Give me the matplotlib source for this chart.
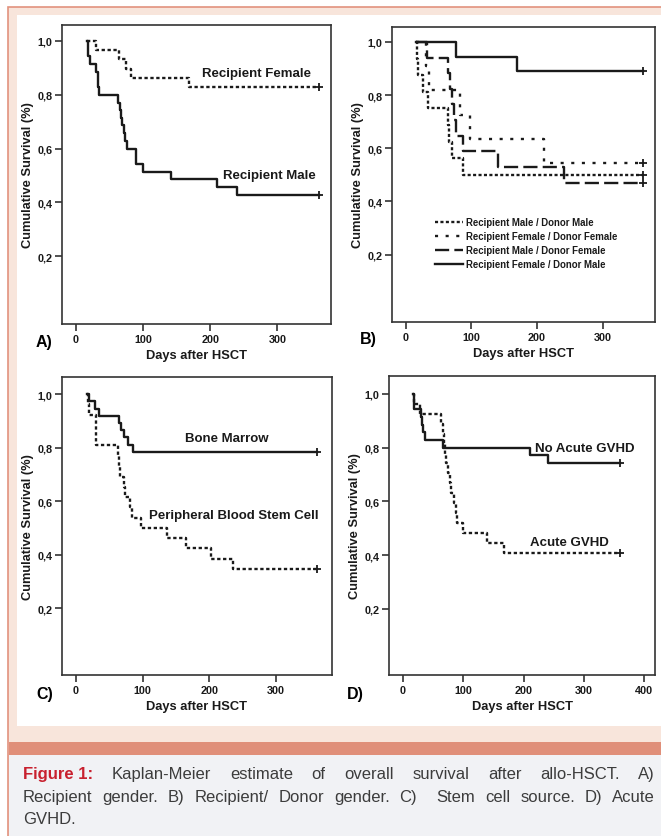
import matplotlib
matplotlib.use('Agg')
import matplotlib.pyplot as plt
from matplotlib.patches import Rectangle
from matplotlib.lines import Line2D

W, H = 661, 837

# ---- curves: (days, cumulative survival), step "post" ----
a_female_t = [17, 30, 64, 74, 82, 169, 362]
a_female_s = [1.0, 0.966, 0.931, 0.897, 0.862, 0.828, 0.828]
a_male_t = [17, 18, 21, 29, 32, 34, 63, 65, 67, 69, 71, 73, 76, 89, 100, 141, 210, 240, 362]
a_male_s = [1.0, 0.943, 0.914, 0.886, 0.829, 0.8, 0.771, 0.743, 0.714, 0.686, 0.657,
            0.629, 0.6, 0.543, 0.514, 0.486, 0.457, 0.429, 0.429]

b_rmdm_t = [16, 17, 18, 27, 34, 64, 66, 70, 87, 362]
b_rmdm_s = [1.0, 0.9375, 0.875, 0.8125, 0.75, 0.6875, 0.625, 0.5625, 0.5, 0.5]
b_rfdf_t = [16, 31, 35, 83, 98, 210, 362]
b_rfdf_s = [1.0, 0.909, 0.818, 0.727, 0.636, 0.545, 0.545]
b_rmdf_t = [16, 33, 64, 67, 70, 74, 77, 88, 140, 241, 362]
b_rmdf_s = [1.0, 0.941, 0.882, 0.824, 0.765, 0.706, 0.647, 0.588, 0.529, 0.471, 0.471]
b_rfdm_t = [16, 76, 169, 362]
b_rfdm_s = [1.0, 0.944, 0.889, 0.889]
b_labels = ['Recipient Male / Donor Male', 'Recipient Female / Donor Female',
            'Recipient Male / Donor Female', 'Recipient Female / Donor Male']

c_bm_t = [17, 19, 29, 35, 64, 68, 72, 78, 86, 362]
c_bm_s = [1.0, 0.973, 0.946, 0.919, 0.892, 0.865, 0.838, 0.811, 0.784, 0.784]
c_pb_t = [17, 18, 20, 30, 63, 64, 66, 72, 74, 81, 84, 97, 136, 165, 202, 235, 362]
c_pb_s = [1.0, 0.962, 0.923, 0.808, 0.769, 0.731, 0.692, 0.654, 0.615, 0.577, 0.538,
          0.5, 0.462, 0.423, 0.385, 0.346, 0.346]

d_no_t = [17, 18, 30, 32, 34, 36, 66, 210, 240, 360]
d_no_s = [1.0, 0.943, 0.914, 0.886, 0.857, 0.829, 0.8, 0.771, 0.743, 0.743]
d_gv_t = [17, 19, 29, 64, 66, 68, 70, 72, 75, 78, 80, 85, 88, 90, 100, 140, 168, 360]
d_gv_s = [1.0, 0.963, 0.926, 0.889, 0.852, 0.815, 0.778, 0.741, 0.704, 0.667, 0.630,
          0.593, 0.556, 0.519, 0.481, 0.444, 0.407, 0.407]

y_ticks = [0.2, 0.4, 0.6, 0.8, 1.0]
y_ticklabels = ['0,2', '0,4', '0,6', '0,8', '1,0']

# caption split into words per line; first token is the red lead-in
caption_lines = [
    ["Figure 1:"] + "Kaplan-Meier estimate of overall survival after allo-HSCT. A)".split(' '),
    "Recipient gender. B) Recipient/ Donor gender. C)  Stem cell source. D) Acute".split(' '),
    ["GVHD."],
]

plt.rcParams['font.family'] = ['Liberation Sans', 'DejaVu Sans']
INK = '#1a1a1a'
DOT = (0, (1.4, 1.1))

fig = plt.figure(figsize=(W / 100, H / 100), dpi=100, facecolor='white')


def px_rect(x0, y0, x1, y1, **kw):
    # rectangle in pixel coords, origin top-left, kept behind the axes
    fig.patches.append(Rectangle((x0 / W, 1 - y1 / H), (x1 - x0) / W, (y1 - y0) / H,
                                 transform=fig.transFigure, zorder=-10, **kw))


# page background / frame
px_rect(8, 8, 700, 900, facecolor='#f8e5db', edgecolor='#e2927e', linewidth=1.2)
px_rect(17, 16, 700, 727, facecolor='white', edgecolor='none')
px_rect(9, 743, 700, 756, facecolor='#e08f79', edgecolor='none')
px_rect(9, 756, 700, 900, facecolor='#f1f2f5', edgecolor='none')


def px_axes(l, t, r, b):
    ax = fig.add_axes([l / W, 1 - b / H, (r - l) / W, (b - t) / H])
    ax.set_facecolor('none')
    return ax


def style(ax, xlim, ylim, xticks):
    ax.set_xlim(*xlim)
    ax.set_ylim(*ylim)
    ax.set_xticks(xticks)
    ax.set_yticks(y_ticks)
    ax.set_yticklabels(y_ticklabels)
    for s in ax.spines.values():
        s.set_linewidth(1.2)
        s.set_color('#333333')
    ax.tick_params(direction='out', length=5, width=1.2, color='#333333',
                   labelsize=7.8, pad=2, labelcolor=INK)
    for lab in ax.get_xticklabels() + ax.get_yticklabels():
        lab.set_fontweight('bold')
    ax.set_xlabel('Days after HSCT', fontsize=9.3, fontweight='bold', labelpad=4, color=INK)
    ax.set_ylabel('Cumulative Survival (%)', fontsize=9.3, fontweight='bold', labelpad=2.5, color=INK)


def km(ax, t, s, ls, lw=1.7):
    line, = ax.step(t, s, where='post', color=INK, linestyle=ls, linewidth=lw)
    ax.plot(t[-1], s[-1], marker='+', color=INK, markersize=5.5, mew=1.3)
    return line


def note(ax, x, y, txt):
    ax.text(x, y, txt, ha='center', va='center', fontsize=9.5, fontweight='bold', color=INK)


# ---- A) recipient gender ----
axA = px_axes(62, 26, 331, 325)
style(axA, (-21, 380), (-0.052, 1.059), [0, 100, 200, 300])
km(axA, a_female_t, a_female_s, DOT)
km(axA, a_male_t, a_male_s, '-')
note(axA, 269, 0.881, 'Recipient Female')
note(axA, 288, 0.50, 'Recipient Male')

# ---- B) recipient / donor gender ----
axB = px_axes(392, 28, 655, 323)
style(axB, (-21, 380), (-0.053, 1.056), [0, 100, 200, 300])
b_styles = [(1.3, 1.0), (1.3, 3.2), (6, 2.2), None]
b_series = [(b_rmdm_t, b_rmdm_s), (b_rfdf_t, b_rfdf_s), (b_rmdf_t, b_rmdf_s), (b_rfdm_t, b_rfdm_s)]
handles = []
for (t, s), dash in zip(b_series, b_styles):
    km(axB, t, s, (0, dash) if dash else '-')
    handles.append(Line2D([], [], color=INK, linewidth=1.7,
                          linestyle=(0, dash) if dash else '-'))
leg = axB.legend(handles, b_labels, loc='upper left', bbox_to_anchor=(0.165, 0.355),
                 frameon=False, prop={'size': 6.9, 'weight': 'bold'}, handlelength=2.9,
                 handletextpad=0.3, labelspacing=0.42, borderpad=0, borderaxespad=0)
for t in leg.get_texts():
    t.set_color(INK)

# ---- C) stem cell source ----
axC = px_axes(62, 378, 332, 676)
style(axC, (-21, 384), (-0.05, 1.064), [0, 100, 200, 300])
km(axC, c_pb_t, c_pb_s, DOT)
km(axC, c_bm_t, c_bm_s, '-')
note(axC, 226, 0.835, 'Bone Marrow')
note(axC, 236, 0.548, 'Peripheral Blood Stem Cell')

# ---- D) acute GVHD ----
axD = px_axes(389, 377, 655, 676)
style(axD, (-23, 418), (-0.047, 1.067), [0, 100, 200, 300, 400])
km(axD, d_gv_t, d_gv_s, DOT)
km(axD, d_no_t, d_no_s, '-')
note(axD, 302, 0.80, 'No Acute GVHD')
note(axD, 276, 0.45, 'Acute GVHD')

# panel letters
for lab, x, y in [('A)', 44, 342), ('B)', 368, 340), ('C)', 45, 695), ('D)', 355, 695)]:
    fig.text(x / W, 1 - y / H, lab, ha='center', va='center', fontsize=11.5,
             fontweight='bold', color='black')

# ---- caption, justified by hand ----
fig.canvas.draw()
renderer = fig.canvas.get_renderer()
cap_left, cap_right = 23, 655
cap_y = [775, 798, 820]
cap_font = ['Liberation Sans Narrow', 'Liberation Sans', 'DejaVu Sans']
for i, (words, y) in enumerate(zip(caption_lines, cap_y)):
    texts = []
    for j, w in enumerate(words):
        red = (i == 0 and j == 0)
        texts.append(fig.text(0, 1 - y / H, w, ha='left', va='center', fontsize=12,
                              family=cap_font, fontweight='bold' if red else 'normal',
                              color='#c8202e' if red else '#3c3c3c'))
    widths = [t.get_window_extent(renderer).width if t.get_text() else 0 for t in texts]
    if i < len(caption_lines) - 1 and len(words) > 1:
        gap = (cap_right - cap_left - sum(widths)) / (len(words) - 1)
    else:
        gap = 4
    x = cap_left
    for t, w in zip(texts, widths):
        t.set_x(x / W)
        x += w + gap

fig.savefig('out.png', dpi=100, facecolor=fig.get_facecolor())
